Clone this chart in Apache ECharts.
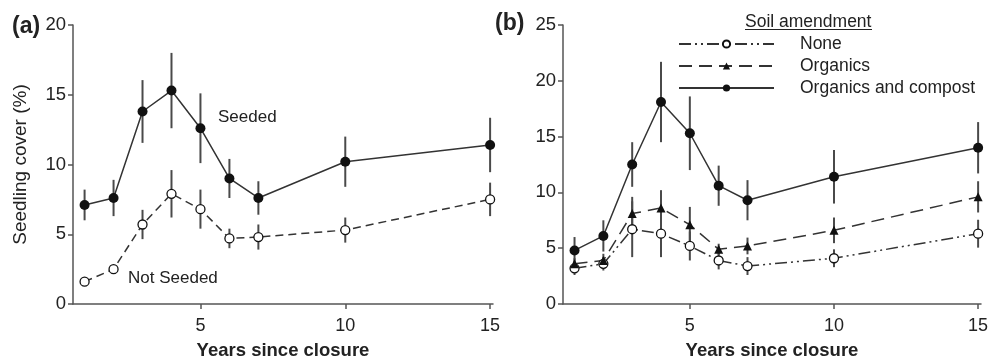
<!DOCTYPE html>
<html>
<head>
<meta charset="utf-8">
<script src="https://cdn.jsdelivr.net/npm/echarts@6/dist/echarts.min.js"></script>
<style>
  html, body { margin: 0; padding: 0; background: #fff; }
  #chart { width: 997px; height: 360px; }
</style>
</head>
<body>
<div id="chart"></div>
<script>
const years = [1, 2, 3, 4, 5, 6, 7, 10, 15];
const xTicks = [5, 10, 15];

// panel (a)
const seeded = [7.1, 7.6, 13.8, 15.3, 12.6, 9.0, 7.6, 10.2, 11.4];
const seededErr = [1.1, 1.3, 2.25, 2.7, 2.5, 1.4, 1.2, 1.8, 1.95];
const notSeeded = [1.6, 2.5, 5.7, 7.9, 6.8, 4.7, 4.8, 5.3, 7.5];
const notSeededErr = [0.2, 0.2, 1.05, 1.7, 1.4, 0.7, 0.9, 0.9, 1.2];

// panel (b)
const none = [3.2, 3.6, 6.7, 6.3, 5.2, 3.9, 3.4, 4.1, 6.3];
const noneErr = [0.6, 0.6, 2.5, 2.1, 1.3, 0.8, 0.8, 0.8, 1.25];
const organics = [3.6, 3.9, 8.1, 8.6, 7.1, 4.9, 5.2, 6.6, 9.6];
const organicsErr = [0.5, 0.6, 1.5, 1.6, 1.6, 0.5, 0.75, 1.15, 1.4];
const compost = [4.8, 6.1, 12.5, 18.1, 15.3, 10.6, 9.3, 11.4, 14.0];
const compostErr = [1.2, 1.4, 2.0, 3.6, 3.3, 1.8, 1.8, 2.4, 2.3];

const FONT = "'Liberation Sans', Arial, sans-serif";
const INK = "#222";
const AXIS = "#555";

const chart = echarts.init(document.getElementById("chart"), null, { renderer: "canvas" });

function xAxis(idx) {
  return {
    type: "value", gridIndex: idx, min: 0.6, max: 15.1,
    name: "Years since closure", nameLocation: "middle", nameGap: 37,
    nameTextStyle: { color: INK, fontSize: 18.5, fontWeight: "bold", fontFamily: FONT },
    axisLine: { lineStyle: { color: AXIS, width: 1.5 } },
    axisTick: { show: true, length: 5, customValues: xTicks, lineStyle: { color: AXIS, width: 1.5 } },
    axisLabel: { customValues: xTicks, margin: 13, color: INK, fontSize: 18, fontFamily: FONT },
    splitLine: { show: false }
  };
}

function yAxis(idx, max, name) {
  return {
    type: "value", gridIndex: idx, min: 0, max: max, interval: 5,
    name: name, nameLocation: "middle", nameGap: 43, nameRotate: 90,
    nameTextStyle: { color: INK, fontSize: 19, fontFamily: FONT },
    axisLine: { show: true, lineStyle: { color: AXIS, width: 1.5 } },
    axisTick: { show: true, length: 5, lineStyle: { color: AXIS, width: 1.5 } },
    axisLabel: { margin: 7, color: INK, fontSize: 18.5, fontFamily: FONT },
    splitLine: { show: false }
  };
}

function errBars(idx, vals, errs) {
  return {
    type: "custom", xAxisIndex: idx, yAxisIndex: idx, silent: true, z: 1,
    data: years.map((x, i) => [x, vals[i] - errs[i], vals[i] + errs[i]]),
    renderItem: (params, api) => {
      const lo = api.coord([api.value(0), api.value(1)]);
      const hi = api.coord([api.value(0), api.value(2)]);
      return {
        type: "line",
        shape: { x1: lo[0], y1: lo[1], x2: hi[0], y2: hi[1] },
        style: { stroke: "#4a4a4a", lineWidth: 2 }
      };
    }
  };
}

function lineSeries(idx, name, vals, dash, symbol, filled, size) {
  return {
    type: "line", name: name, xAxisIndex: idx, yAxisIndex: idx, z: 3,
    data: years.map((x, i) => [x, vals[i]]),
    symbol: symbol, symbolSize: size, showAllSymbol: true,
    lineStyle: { color: "#333", width: 1.5, type: dash },
    itemStyle: { color: filled ? "#111" : "#fff", borderColor: "#111", borderWidth: filled ? 0 : 1.3, opacity: 1 },
    emphasis: { disabled: true }
  };
}

chart.setOption({
  animation: false,
  backgroundColor: "#fff",
  textStyle: { fontFamily: FONT },
  grid: [
    { left: 73, right: 504, top: 25, bottom: 56, outerBoundsMode: "none", containLabel: false },
    { left: 563, right: 16, top: 25, bottom: 56, outerBoundsMode: "none", containLabel: false }
  ],
  xAxis: [xAxis(0), xAxis(1)],
  yAxis: [yAxis(0, 20, "Seedling cover (%)"), yAxis(1, 25, "")],
  legend: {
    data: ["None", "Organics", "Organics and compost"],
    orient: "vertical", left: 678, top: 35, padding: 0,
    itemWidth: 95, itemHeight: 9, itemGap: 4,
    textStyle: { color: INK, fontSize: 17.5, lineHeight: 18, fontFamily: FONT, padding: [0, 0, 0, 21] },
    selectedMode: false
  },
  graphic: [
    { type: "text", left: 12, top: 15, style: { text: "(a)", font: "bold 23px " + FONT, fill: INK } },
    { type: "text", left: 495, top: 12, style: { text: "(b)", font: "bold 23px " + FONT, fill: INK } },
    { type: "text", left: 218, top: 109, style: { text: "Seeded", font: "17px " + FONT, fill: INK } },
    { type: "text", left: 128, top: 270, style: { text: "Not Seeded", font: "17px " + FONT, fill: INK } },
    { type: "text", left: 745, top: 13, style: { text: "Soil amendment", font: "17.5px " + FONT, fill: INK } },
    { type: "line", shape: { x1: 745, y1: 29.5, x2: 872, y2: 29.5 }, style: { stroke: INK, lineWidth: 1.2 } }
  ],
  series: [
    errBars(0, seeded, seededErr),
    errBars(0, notSeeded, notSeededErr),
    lineSeries(0, "Seeded", seeded, "solid", "circle", true, 10),
    lineSeries(0, "Not Seeded", notSeeded, [8, 5], "circle", false, 9),
    errBars(1, none, noneErr),
    errBars(1, organics, organicsErr),
    errBars(1, compost, compostErr),
    lineSeries(1, "None", none, [12, 4, 2, 4, 2, 4], "circle", false, 9),
    lineSeries(1, "Organics", organics, [13, 7], "triangle", true, 9),
    lineSeries(1, "Organics and compost", compost, "solid", "circle", true, 10)
  ]
});
</script>
</body>
</html>
